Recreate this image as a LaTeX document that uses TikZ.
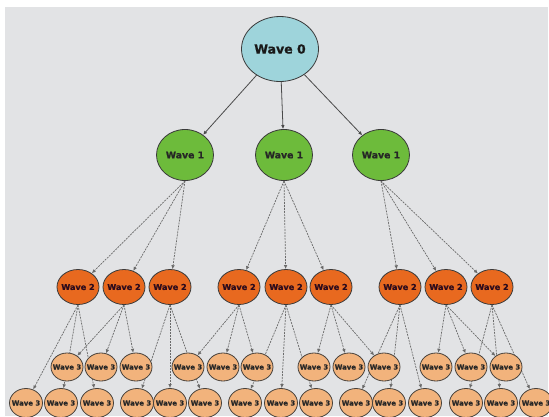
\documentclass[tikz,border=0pt]{standalone}
\usepackage{fontspec}
\setmainfont{DejaVu Sans}
\newfontfamily\heavyfont[BoldFeatures={FakeBold=0.8}]{DejaVu Sans}
\usetikzlibrary{shapes.geometric,arrows.meta}
\definecolor{bgc}{HTML}{E2E3E5}
\definecolor{c0}{HTML}{9ED4DB}
\definecolor{c1}{HTML}{6DBB3B}
\definecolor{c2}{HTML}{E8691F}
\definecolor{c3}{HTML}{F2B37C}
\definecolor{edgec}{HTML}{3A3A3A}
\definecolor{linec}{HTML}{4A4A4A}
\definecolor{dashc}{HTML}{6A6A6A}
\definecolor{txt2}{HTML}{2E0C1C}
\newcommand\wlab[1]{\makebox[0pt]{#1}}
\pgfdeclarelayer{bg}
\pgfsetlayers{bg,main}
\tikzset{
  wnode/.style={ellipse, draw=edgec, line width=0.8pt, inner sep=0pt},
  wzero/.style={wnode, fill=c0, minimum width=77pt, minimum height=65pt,
    font=\fontsize{12.5}{14}\selectfont\heavyfont\bfseries, text=black!90},
  wone/.style={wnode, fill=c1, minimum width=57pt, minimum height=51pt,
    font=\fontsize{9.3}{11}\selectfont\heavyfont\bfseries, text=black!85},
  wtwo/.style={wnode, fill=c2, minimum width=42pt, minimum height=35pt,
    font=\fontsize{8.1}{10}\selectfont\heavyfont\bfseries, text=txt2},
  wthree/.style={wnode, fill=c3, draw=edgec!90!brown, minimum width=32pt, minimum height=28pt,
    font=\fontsize{6.9}{8}\selectfont\heavyfont\bfseries, text=black!85},
  tip/.style={-{Latex[length=4pt,width=3.6pt]}},
  esolid/.style={tip, draw=linec, line width=0.8pt},
  edash/.style={tip, draw=dashc, line width=0.7pt, dash pattern=on 2pt off 1pt},
}
\begin{document}
\begin{tikzpicture}[x=1pt,y=-1pt]
\useasboundingbox (0,0) rectangle (549,416);
\begin{pgfonlayer}{bg}
  \fill[bgc] (5,7) rectangle (548,416);
\end{pgfonlayer}
% level 0
\node[wzero] (w0) at (280,49) {\wlab{Wave 0}};
% level 1
\foreach \x [count=\i] in {185,284,381}
  \node[wone] (w1-\i) at (\x,155) {\wlab{Wave 1}};
% level 2
\foreach \x [count=\i] in {78,124,170,239,286,331,400,446,492}
  \node[wtwo] (w2-\i) at (\x,287) {\wlab{Wave 2}};
% level 3, upper row
\foreach \x [count=\i] in {67,101,136,188,223,257,314,349,384,436,471,506}
  \node[wthree] (r3-\i) at (\x,367) {\wlab{Wave 3}};
% level 3, lower row
\foreach \x [count=\i] in {26,61,97,137,170,205,245,281,316,356,389,425,466,501,536}
  \node[wthree, minimum width=33pt, minimum height=29pt] (r4-\i) at (\x,403) {\wlab{Wave 3}};
% connectors
\begin{pgfonlayer}{bg}
  \foreach \i in {1,2,3}
    \draw[esolid] (w0) -- (w1-\i);
  \foreach \p/\k in {1/1,2/4,3/7}{
    \foreach \j in {0,1,2}{
      \pgfmathtruncatemacro\cc{\k+\j}
      \draw[edash] (w1-\p.south) -- (w2-\cc);
    }
  }
  \foreach \p/\row/\k in {1/r4/1,2/r3/1,3/r4/4,4/r3/4,5/r4/7,6/r3/7,7/r4/10,8/r3/10,9/r4/13}{
    \foreach \j in {0,1,2}{
      \pgfmathtruncatemacro\cc{\k+\j}
      \draw[edash] (w2-\p.south) -- (\row-\cc);
    }
  }
\end{pgfonlayer}
\end{tikzpicture}
\end{document}
